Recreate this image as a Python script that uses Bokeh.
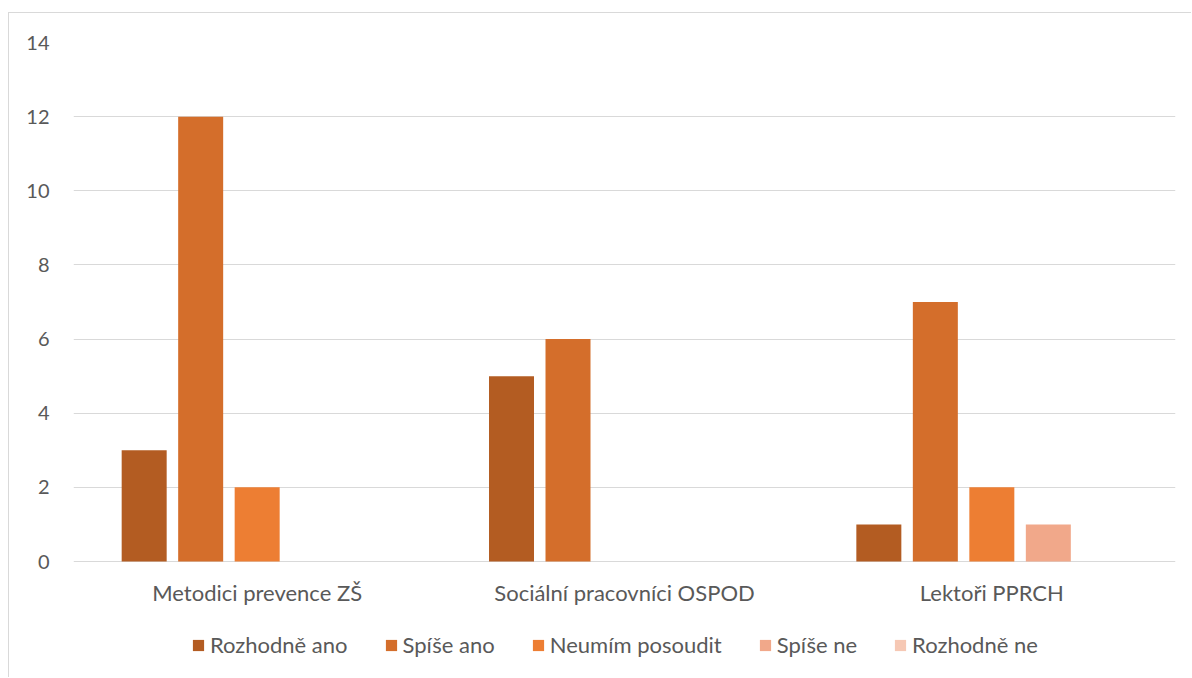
from bokeh.plotting import figure
from bokeh.models import FactorRange, Range1d, Legend, LegendItem, ColumnDataSource
from bokeh.core.properties import value
from bokeh.transform import dodge
from bokeh.embed import file_html
from bokeh.resources import INLINE

# Groups on the x axis
categories = ["Metodici prevence ZŠ", "Sociální pracovníci OSPOD", "Lektoři PPRCH"]

# Answer series (one bar per group each)
series_names = ["Rozhodně ano", "Spíše ano", "Neumím posoudit", "Spíše ne", "Rozhodně ne"]
rozhodne_ano = [3, 5, 1]
spise_ano = [12, 6, 7]
neumim_posoudit = [2, 0, 2]
spise_ne = [0, 0, 1]
rozhodne_ne = [0, 0, 0]

y_ticks = [0, 2, 4, 6, 8, 10, 12, 14]

colors = ["#B35C22", "#D46E2B", "#ED7E33", "#F1A88A", "#F6C8B4"]

source = ColumnDataSource(data=dict(
    cat=categories,
    rozhodne_ano=rozhodne_ano,
    spise_ano=spise_ano,
    neumim_posoudit=neumim_posoudit,
    spise_ne=spise_ne,
    rozhodne_ne=rozhodne_ne,
))
columns = ["rozhodne_ano", "spise_ano", "neumim_posoudit", "spise_ne", "rozhodne_ne"]

FONT = "Lato"
TEXT = "#595959"
GRID = "#D9D9D9"

# The plot frame reaches below zero so that the category labels and the
# legend row live inside it (the value axis only ticks 0..14).
PX_PER_UNIT = 519 / 14
Y_BOTTOM = -107 / PX_PER_UNIT
LABEL_Y = -31 / PX_PER_UNIT

p = figure(
    width=1183, height=665,
    x_range=FactorRange(factors=categories),
    y_range=Range1d(Y_BOTTOM, 14),
    output_backend="svg", toolbar_location=None,
    min_border_left=64, min_border_right=17,
    min_border_top=29, min_border_bottom=10,
)
p.margin = (12, 0, 0, 8)
p.styles = {"border-top": f"1px solid {GRID}", "border-left": f"1px solid {GRID}"}
p.outline_line_color = None
p.background_fill_color = "white"
p.border_fill_color = "white"

step = 0.1538
bar_w = 0.1225
items = []
for i, (col, name, c) in enumerate(zip(columns, series_names, colors)):
    r = p.vbar(x=dodge("cat", (i - 2) * step, range=p.x_range), top=col, width=bar_w,
               bottom=0, source=source, fill_color=c, line_color=None)
    items.append(LegendItem(label=name, renderers=[r]))

# Category labels under the zero line
p.text(x=categories, y=[LABEL_Y] * len(categories), text=categories,
       text_align="center", text_baseline="middle",
       text_font=value(FONT), text_font_size="22px", text_color=TEXT)

p.xaxis.visible = False
p.xgrid.grid_line_color = None
p.ygrid.grid_line_color = GRID
p.ygrid.grid_line_width = 1
p.yaxis.ticker = y_ticks
p.yaxis.axis_line_color = None
p.yaxis.major_tick_line_color = None
p.yaxis.minor_tick_line_color = None
p.yaxis.major_label_standoff = 18
p.yaxis.major_label_text_font = FONT
p.yaxis.major_label_text_font_size = "20px"
p.yaxis.major_label_text_color = TEXT

legend = Legend(items=items, orientation="horizontal", location=(118, 10),
                border_line_color=None, background_fill_alpha=0,
                label_text_font=FONT, label_text_font_size="22px",
                label_text_color=TEXT, glyph_width=14, glyph_height=14,
                spacing=36, label_standoff=5, margin=0, padding=0)
p.add_layout(legend, "center")

open("out.html", "w").write(file_html(p, INLINE))
